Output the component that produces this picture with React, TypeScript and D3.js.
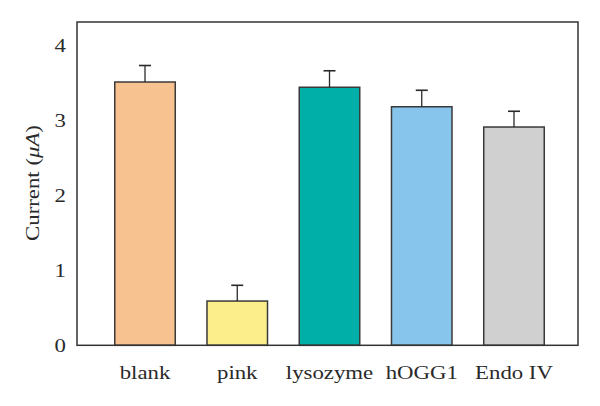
import React from "react";
import * as d3 from "d3";

const categories = ["blank", "pink", "lysozyme", "hOGG1", "Endo IV"];
const values = [3.51, 0.59, 3.44, 3.18, 2.91];
const errors = [0.22, 0.21, 0.22, 0.22, 0.21];
const colors = ["#F8C190", "#FBEE8B", "#00AFA8", "#87C5EC", "#D0D0D0"];
const yTicks = [0, 1, 2, 3, 4];

const W = 600;
const H = 406;
const plot = { left: 77, right: 578, top: 22, bottom: 345.3 };
const yMax = 4.31;
const FONT = "'Liberation Serif', 'Times New Roman', serif";
const SX = 1.2;
const INK = "#2a2a2a";

export default function App() {
  const x = d3
    .scaleBand<string>()
    .domain(categories)
    .range([114.75, 544.25])
    .paddingInner(0.344)
    .paddingOuter(0);
  const y = d3.scaleLinear().domain([0, yMax]).range([plot.bottom, plot.top]);
  const capHalf = 6;

  return (
    <svg
      width={W}
      height={H}
      style={{ position: "absolute", left: 0, top: 0, display: "block", background: "#fff" }}
    >
      <rect x={0} y={0} width={W} height={H} fill="#fff" />
      {categories.map((c, i) => {
        const x0 = x(c)!;
        const bw = x.bandwidth();
        const cx = x0 + bw / 2;
        const yt = y(values[i]);
        const ye = y(values[i] + errors[i]);
        return (
          <g key={c}>
            <rect
              x={x0}
              y={yt}
              width={bw}
              height={y(0) - yt}
              fill={colors[i]}
              stroke="#3a3a3a"
              strokeWidth={1.5}
            />
            <line x1={cx} x2={cx} y1={yt} y2={ye} stroke={INK} strokeWidth={1.3} />
            <line x1={cx - capHalf} x2={cx + capHalf} y1={ye} y2={ye} stroke={INK} strokeWidth={1.6} />
          </g>
        );
      })}
      <rect
        x={plot.left}
        y={plot.top}
        width={plot.right - plot.left}
        height={plot.bottom - plot.top}
        fill="none"
        stroke="#333"
        strokeWidth={1.5}
      />
      {yTicks.map((t) => (
        <text
          key={t}
          transform={`translate(66,${y(t)}) scale(${SX},1)`}
          textAnchor="end"
          dominantBaseline="central"
          fontFamily={FONT}
          fontSize={19}
          fill={INK}
        >
          {t}
        </text>
      ))}
      {categories.map((c) => (
        <text
          key={c}
          transform={`translate(${x(c)! + x.bandwidth() / 2},379) scale(${SX},1)`}
          textAnchor="middle"
          fontFamily={FONT}
          fontSize={19}
          fill={INK}
        >
          {c}
        </text>
      ))}
      <text
        transform={`translate(39,183) rotate(-90) scale(${SX},1)`}
        textAnchor="middle"
        fontFamily={FONT}
        fontSize={19}
        fill={INK}
      >
        Current (<tspan fontStyle="italic">μA</tspan>)
      </text>
    </svg>
  );
}
